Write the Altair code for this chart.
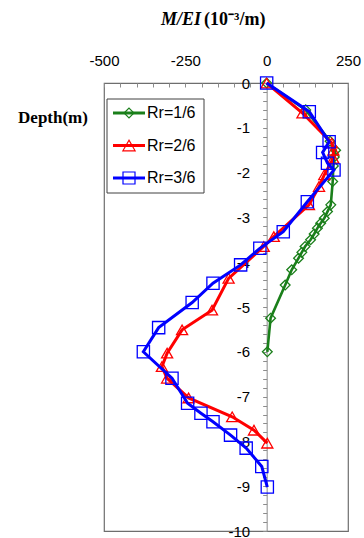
import altair as alt
import pandas as pd

# ---- data ----
series = ["Rr=1/6", "Rr=2/6", "Rr=3/6"]
colors = ["#1A7F1A", "#FF0000", "#0000FF"]
shapes = ["diamond", "triangle-up", "square"]
marker_sizes = [95, 150, 144]

g_depth = [0, -0.6, -1.3, -1.5, -1.65, -1.85, -2.2, -2.72, -2.87, -3.02, -3.13,
           -3.24, -3.37, -3.5, -3.65, -3.78, -3.91, -4.17, -4.51, -5.25, -6.0]
g_mei = [0, 120, 195, 212, 208, 205, 203, 197, 187, 177, 166,
         156, 146, 135, 118, 108, 98, 77, 57, 12, 2]

r_depth = [0, -0.67, -1.34, -1.5, -1.68, -2.05, -2.31, -2.72, -3.43, -3.65,
           -4.36, -5.07, -5.51, -6.03, -6.33, -6.59, -7.03, -7.45, -7.75, -8.04]
r_mei = [0, 110, 200, 205, 205, 177, 161, 130, 22, -9,
         -117, -168, -260, -306, -322, -306, -240, -106, -39, 2]

b_depth = [0, -0.64, -1.31, -1.55, -1.79, -1.94, -2.65, -3.32, -3.69, -4.06,
           -4.47, -4.9, -5.46, -6.0, -6.59, -7.15, -7.37, -7.56, -7.86, -8.15,
           -8.56, -9.02]
b_mei = [0, 131, 192, 172, 187, 207, 125, 51, -21, -80,
         -165, -229, -332, -379, -291, -243, -202, -165, -111, -63,
         -15, 2]

x_ticks = [-500, -250, 0, 250]
x_minor = list(range(-500, 251, 50))
y_ticks = [round(-0.2 * k, 1) for k in range(51)]

title_main = "M/EI"
title_unit = "(10\u207b\u00b3/m)"
y_title = "Depth(m)"

# ---- build table ----
rows = []
for name, d, m in zip(series, [g_depth, r_depth, b_depth], [g_mei, r_mei, b_mei]):
    for i, (dd, mm) in enumerate(zip(d, m)):
        rows.append({"series": name, "depth": dd, "mei": mm, "idx": i})
df = pd.DataFrame(rows)

W, H = 244, 448
X0 = W * 500 / 750  # pixel position of x=0 inside plot

x_scale = alt.Scale(domain=[-500, 250], nice=False, zero=False)
y_scale = alt.Scale(domain=[-10, 0], nice=False, zero=False)
color_scale = alt.Scale(domain=series, range=colors)
shape_scale = alt.Scale(domain=series, range=shapes)
size_scale = alt.Scale(domain=series, range=marker_sizes)

FONT = "Liberation Sans"
SERIF = "Liberation Serif"

axis_x_top = alt.Axis(orient="top", values=x_ticks, ticks=False, tickSize=0,
                      domain=False, grid=False, labelPadding=15, labelFontSize=15,
                      labelFont=FONT, labelColor="black", title=None,
                      labelFlush=False, labelOverlap=False,
                      labelExpr="'' + datum.value")
axis_x_inner = alt.Axis(orient="bottom", offset=-H, values=x_minor, labels=False,
                        ticks=True, tickSize=4, tickColor="#8c8c8c", domain=False,
                        grid=False, title=None)
axis_y = alt.Axis(orient="left", offset=-X0, values=y_ticks, tickSize=4,
                  tickColor="#8c8c8c", domain=True, domainColor="#8c8c8c",
                  grid=False, labelPadding=13, labelFontSize=15, labelFont=FONT,
                  labelColor="black", title=None, labelFlush=False, labelOverlap=False,
                  labelExpr="abs(datum.value - round(datum.value)) < 0.001 ? '' + round(datum.value) : ''")

layers = []
for k, name in enumerate(series):
    sub = alt.Chart(df).transform_filter(alt.datum.series == name)
    line = sub.mark_line(strokeWidth=3 if k else 2.6).encode(
        x=alt.X("mei:Q", scale=x_scale, axis=axis_x_top if k == 0 else None),
        y=alt.Y("depth:Q", scale=y_scale, axis=axis_y if k == 0 else None),
        color=alt.Color("series:N", scale=color_scale, legend=None),
        order="idx:Q",
    )
    pts = sub.mark_point(filled=False, strokeWidth=1.3, opacity=1).encode(
        x=alt.X("mei:Q", scale=x_scale, axis=axis_x_inner if k == 0 else None),
        y=alt.Y("depth:Q", scale=y_scale, axis=None),
        color=alt.Color("series:N", scale=color_scale, legend=None),
        shape=alt.Shape("series:N", scale=shape_scale, legend=None),
        size=alt.Size("series:N", scale=size_scale, legend=None),
    )
    layers += [line, pts]

# ---- manual legend ----
one = pd.DataFrame({"k": [0]})
leg_box = alt.Chart(one).mark_rect(fill="white", stroke="#404040", strokeWidth=1).encode(
    x=alt.value(3), x2=alt.value(100), y=alt.value(16), y2=alt.value(110))
layers.append(leg_box)
for k, name in enumerate(series):
    yy = 30 + 32.5 * k
    d1 = pd.DataFrame({"series": [name]})
    layers.append(alt.Chart(d1).mark_rule(strokeWidth=3, color=colors[k]).encode(
        x=alt.value(9), x2=alt.value(41), y=alt.value(yy)))
    layers.append(alt.Chart(d1).mark_point(filled=False, strokeWidth=1.2, opacity=1,
                                           color=colors[k], shape=shapes[k],
                                           size=marker_sizes[k]).encode(
        x=alt.value(25), y=alt.value(yy)))
    layers.append(alt.Chart(d1).mark_text(align="left", baseline="middle", font=FONT,
                                          fontSize=16, color="black").encode(
        x=alt.value(43), y=alt.value(yy), text="series:N"))

# ---- titles ----
t1 = pd.DataFrame({"t": [title_main]})
t2 = pd.DataFrame({"t": [title_unit]})
t3 = pd.DataFrame({"t": [y_title]})
layers.append(alt.Chart(t1).mark_text(align="right", baseline="middle", font=SERIF,
                                      fontSize=18, fontWeight="bold", fontStyle="italic",
                                      color="black").encode(
    x=alt.value(97), y=alt.value(-63), text="t:N"))
layers.append(alt.Chart(t2).mark_text(align="left", baseline="middle", font=SERIF,
                                      fontSize=18, fontWeight="bold",
                                      color="black").encode(
    x=alt.value(100), y=alt.value(-63), text="t:N"))
layers.append(alt.Chart(t3).mark_text(align="center", baseline="middle", font=SERIF,
                                      fontSize=17, fontWeight="bold",
                                      color="black").encode(
    x=alt.value(-51), y=alt.value(35), text="t:N"))

chart = alt.layer(*layers).resolve_axis(x="independent", y="independent").properties(
    width=W, height=H,
    autosize=alt.AutoSizeParams(type="none"),
    padding={"left": 104, "top": 83, "right": 16, "bottom": 7},
).configure_view(stroke="#6e6e6e", strokeWidth=1.2)

chart.save("out.html", embed_options={"renderer": "svg", "actions": False})
